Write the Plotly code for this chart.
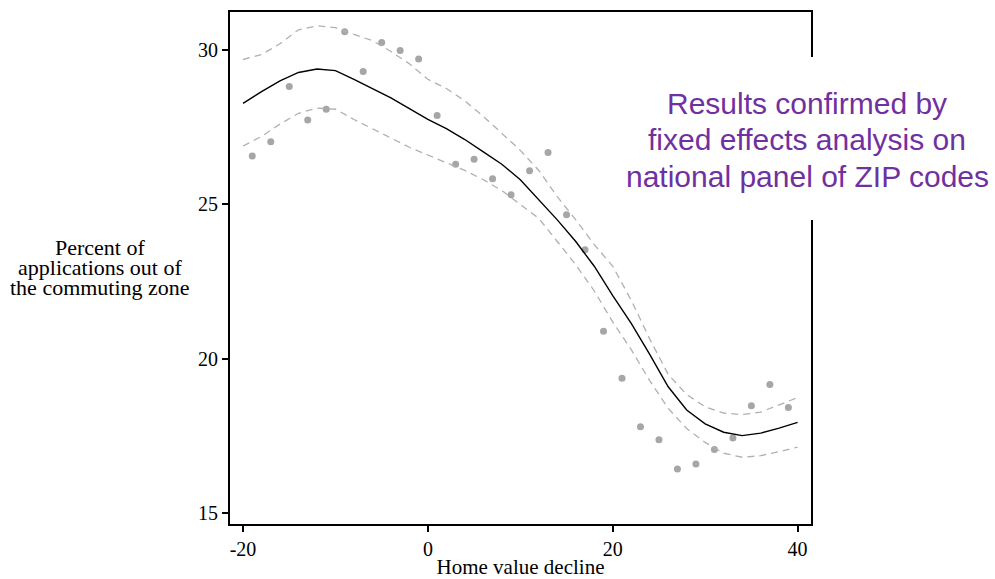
import plotly.graph_objects as go

# Scatter points (binned means)
dot_x = [-19, -17, -15, -13, -11, -9, -7, -5, -3, -1, 1, 3, 5, 7, 9, 11, 13, 15, 17,
         19, 21, 23, 25, 27, 29, 31, 33, 35, 37, 39]
dot_y = [26.57, 27.03, 28.82, 27.73, 28.08, 30.59, 29.30, 30.24, 29.98, 29.71, 27.88,
         26.30, 26.46, 25.83, 25.31, 26.09, 26.68, 24.67, 23.53, 20.90, 19.38, 17.81,
         17.39, 16.44, 16.60, 17.07, 17.44, 18.49, 19.17, 18.43]

# Fitted curve and confidence band
fit_x = [-20, -18, -16, -14, -12, -10, -8, -6, -4, -2, 0, 2, 4, 6, 8, 10, 12, 14, 16,
         18, 20, 22, 24, 26, 28, 30, 32, 34, 36, 38, 40]
fit_y = [28.27, 28.65, 29.0, 29.27, 29.38, 29.33, 29.05, 28.75, 28.45, 28.1, 27.75,
         27.45, 27.1, 26.7, 26.3, 25.8, 25.15, 24.5, 23.8, 23.0, 22.05, 21.15, 20.15,
         19.1, 18.35, 17.9, 17.63, 17.52, 17.6, 17.76, 17.95]
upper_y = [29.69, 29.85, 30.2, 30.65, 30.78, 30.72, 30.5, 30.3, 29.95, 29.55, 29.05,
           28.75, 28.35, 27.85, 27.3, 26.75, 26.1, 25.25, 24.5, 23.7, 23.0, 21.9, 20.65,
           19.5, 18.85, 18.45, 18.25, 18.2, 18.28, 18.52, 18.75]
lower_y = [26.89, 27.2, 27.6, 27.95, 28.12, 28.08, 27.75, 27.45, 27.15, 26.85, 26.6,
           26.35, 26.1, 25.8, 25.45, 25.0, 24.55, 23.8, 23.05, 22.2, 21.2, 20.3, 19.3,
           18.4, 17.75, 17.3, 16.95, 16.82, 16.87, 17.0, 17.15]

x_ticks = [-20, 0, 20, 40]
x_tick_labels = ["-20", "0", "20", "40"]
y_ticks = [15, 20, 25, 30]

x_title = "Home value decline"
y_title_lines = ["Percent of", "applications out of", "the commuting zone"]
note_lines = ["Results confirmed by", "fixed effects analysis on", "national panel of ZIP codes"]

SERIF = "Liberation Serif, Times New Roman, serif"
SANS = "Liberation Sans, Arial, sans-serif"

# plot area in pixels: x 230..811, y 12..524
L, R, T, B = 230, 811, 12, 524


def px_x(p):
    return (p - L) / (R - L)


def px_y(p):
    return (B - p) / (B - T)


fig = go.Figure()
fig.add_trace(go.Scatter(x=dot_x, y=dot_y, mode="markers",
                         marker=dict(color="#a6a6a6", size=7), showlegend=False))
fig.add_trace(go.Scatter(x=fit_x, y=upper_y, mode="lines",
                         line=dict(color="#b0b0b0", width=1.3, dash="7px,5px"),
                         showlegend=False))
fig.add_trace(go.Scatter(x=fit_x, y=lower_y, mode="lines",
                         line=dict(color="#b0b0b0", width=1.3, dash="7px,5px"),
                         showlegend=False))
fig.add_trace(go.Scatter(x=fit_x, y=fit_y, mode="lines",
                         line=dict(color="black", width=1.4), showlegend=False))

annotations = []
for txt, yc in zip(y_title_lines, [247, 267, 287]):
    annotations.append(dict(text=txt, xref="paper", yref="paper", x=px_x(100), y=px_y(yc),
                            showarrow=False, xanchor="center", yanchor="middle",
                            font=dict(family=SERIF, size=22, color="black")))
for txt, yc in zip(note_lines, [103, 139, 176]):
    annotations.append(dict(text=txt, xref="paper", yref="paper", x=px_x(807), y=px_y(yc),
                            showarrow=False, xanchor="center", yanchor="middle",
                            font=dict(family=SANS, size=30, color="#7030A0")))

fig.update_layout(
    width=995, height=579,
    margin=dict(l=L, r=995 - R, t=T, b=579 - B),
    paper_bgcolor="white", plot_bgcolor="white",
    font=dict(family=SERIF, size=20, color="black"),
    xaxis=dict(range=[-21.41, 41.45], tickvals=x_ticks, ticktext=x_tick_labels,
               ticks="outside", ticklen=6, automargin=False,
               tickwidth=1.5, tickcolor="black", showgrid=False, zeroline=False,
               showline=True, linecolor="black", linewidth=1.8, mirror=True,
               title=dict(text=x_title, standoff=7, font=dict(size=21)),
               tickfont=dict(size=20)),
    yaxis=dict(range=[14.66, 31.227], tickvals=y_ticks, ticks="outside", ticklen=6,
               automargin=False,
               tickwidth=1.5, tickcolor="black", showgrid=False, zeroline=False,
               showline=True, linecolor="black", linewidth=1.8, mirror=True,
               tickfont=dict(size=20)),
    shapes=[dict(type="rect", xref="paper", yref="paper",
                 x0=px_x(612), x1=px_x(995), y0=px_y(220), y1=px_y(57),
                 fillcolor="white", line=dict(width=0), layer="above")],
    annotations=annotations,
)

fig.write_html("out.html")
